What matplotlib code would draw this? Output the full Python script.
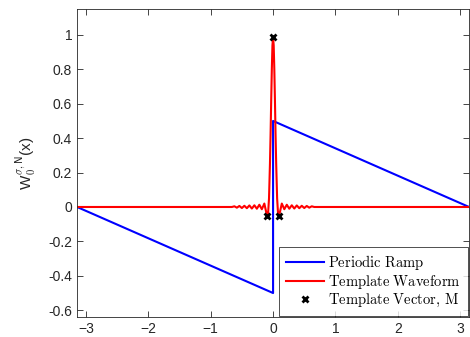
import numpy as np
import matplotlib
matplotlib.use('Agg')
import matplotlib.pyplot as plt

plt.rcParams['font.family'] = ['Liberation Sans', 'DejaVu Sans']
plt.rcParams['mathtext.fontset'] = 'cm'

# periodic ramp (break points)
ramp_x = [-np.pi, 0.0, 0.0, np.pi]
ramp_y = [0.0, -0.5, 0.5, 0.0]

# template waveform
wave_x = [-np.pi, -0.66, -0.62, -0.58, -0.54, -0.50, -0.46, -0.42, -0.38, -0.34,
          -0.30, -0.26, -0.22, -0.18, -0.14, -0.11, -0.095, -0.08, -0.065, -0.05,
          -0.04, -0.03, -0.02, -0.01, 0.0,
          0.01, 0.02, 0.03, 0.04, 0.05, 0.065, 0.08, 0.095, 0.11, 0.14,
          0.18, 0.22, 0.26, 0.30, 0.34, 0.38, 0.42, 0.46, 0.50, 0.54,
          0.58, 0.62, 0.66, np.pi]
wave_y = [0.0, 0.0, 0.004, -0.004, 0.006, -0.006, 0.007, -0.007, 0.009, -0.009,
          0.010, -0.010, 0.013, -0.013, 0.020, -0.030, -0.050, -0.040, 0.05, 0.25,
          0.42, 0.62, 0.80, 0.94, 0.985,
          0.94, 0.80, 0.62, 0.42, 0.25, 0.05, -0.040, -0.050, -0.030, 0.020,
          -0.013, 0.013, -0.010, 0.010, -0.009, 0.009, -0.007, 0.007, -0.006, 0.006,
          -0.004, 0.004, 0.0, 0.0]

# template vector samples
vec_x = [-0.095, 0.0, 0.095]
vec_y = [-0.05, 0.985, -0.05]

fig = plt.figure(figsize=(4.7, 3.37), dpi=100)
ax = fig.add_axes([0.164, 0.059, 0.834, 0.914])

ax.plot(ramp_x, ramp_y, color='blue', lw=1.5, label=r'$\mathrm{Periodic\ Ramp}$')
ax.plot(wave_x, wave_y, color='red', lw=1.5, label=r'$\mathrm{Template\ Waveform}$')
ax.plot(vec_x, vec_y, 'x', color='black', ms=5, mew=2, label=r'$\mathrm{Template\ Vector,\,M}$')

ax.set_xlim(-np.pi, np.pi)
ax.set_ylim(-0.64, 1.15)
ax.set_xticks(range(-3, 4))
ax.set_yticks([-0.6, -0.4, -0.2, 0, 0.2, 0.4, 0.6, 0.8, 1])
ax.set_yticklabels(['-0.6', '-0.4', '-0.2', '0', '0.2', '0.4', '0.6', '0.8', '1'])
ax.tick_params(direction='in', top=True, right=True, length=4, width=0.6,
               labelsize=10, colors='#262626')
for s in ax.spines.values():
    s.set_linewidth(0.6)
    s.set_color('#262626')

ax.set_ylabel(r'W$_0^{\sigma,\mathsf{N}}$(x)', fontsize=11, color='#262626', labelpad=7)

leg = ax.legend(loc='lower right', fontsize=10.5, frameon=True, fancybox=False,
                edgecolor='black', borderaxespad=0.1, handlelength=2.6,
                labelspacing=0.05, borderpad=0.45, handletextpad=0.3)
leg.get_frame().set_linewidth(0.6)

fig.savefig('out.png', dpi=100)
